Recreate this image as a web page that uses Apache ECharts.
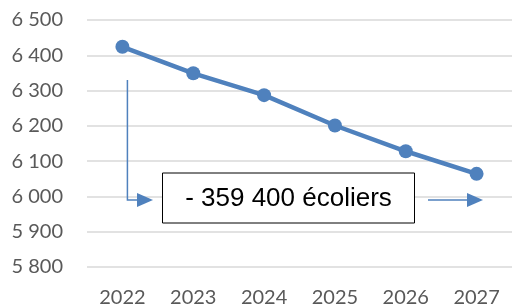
<!DOCTYPE html>
<html><head><meta charset="utf-8">
<script src="https://cdn.jsdelivr.net/npm/echarts@6/dist/echarts.min.js"></script>
<style>html,body{margin:0;padding:0;background:#fff}#c{width:512px;height:308px}</style>
</head><body><div id="c"></div>
<script>
const categories = ['2022','2023','2024','2025','2026','2027'];
const values = [6424, 6349, 6287, 6201, 6128, 6064];
const yTicks = [5800, 5900, 6000, 6100, 6200, 6300, 6400, 6500];
const annotationText = '- 359 400 écoliers';

const chart = echarts.init(document.getElementById('c'), null, {renderer: 'canvas'});
const blue = '#4f81bd';
chart.setOption({
  animation: false,
  grid: {left: 87, top: 20, width: 428, height: 249},
  xAxis: {
    type: 'category', data: categories, boundaryGap: true,
    axisLine: {show: false}, axisTick: {show: false},
    axisLabel: {color: '#595959', fontFamily: 'Lato', fontSize: 20, margin: 21}
  },
  yAxis: {
    type: 'value', min: yTicks[0], max: yTicks[yTicks.length-1], interval: 100,
    axisLine: {show: false}, axisTick: {show: false},
    splitLine: {lineStyle: {color: '#d9d9d9', width: 1.5}},
    axisLabel: {color: '#595959', fontFamily: 'Lato', fontSize: 20, margin: 24,
      formatter: v => String(v).replace(/\B(?=(\d{3})+(?!\d))/g, ' ')}
  },
  series: [{
    type: 'line', data: values, symbol: 'circle', symbolSize: 14,
    lineStyle: {color: blue, width: 4.5}, itemStyle: {color: blue}
  }]
});

function px(cat, val){ return chart.convertToPixel({gridIndex:0}, [cat, val]); }
const p0 = px('2022', 6330), p1 = px('2022', 5990);
const vx = p0[0] + 5;
const ay = p1[1];
chart.setOption({
  graphic: [
    {type: 'polyline', shape: {points: [[vx, p0[1]], [vx, ay], [139, ay]]}, style: {stroke: blue, lineWidth: 1.5, fill: null}},
    {type: 'polygon', shape: {points: [[137, ay-7], [153, ay], [137, ay+7]]}, style: {fill: blue}},
    {type: 'line', shape: {x1: 428, y1: ay, x2: 469, y2: ay}, style: {stroke: blue, lineWidth: 1.5}},
    {type: 'polygon', shape: {points: [[467, ay-7], [483, ay], [467, ay+7]]}, style: {fill: blue}},
    {type: 'rect', shape: {x: 162.5, y: 173, width: 252, height: 50}, style: {fill: '#fff', stroke: '#000', lineWidth: 1}},
    {type: 'text', x: 288.5, y: 199, style: {text: annotationText, fontFamily: 'Liberation Sans', fontSize: 26, fill: '#000', align: 'center', verticalAlign: 'middle'}}
  ]
});
</script></body></html>
